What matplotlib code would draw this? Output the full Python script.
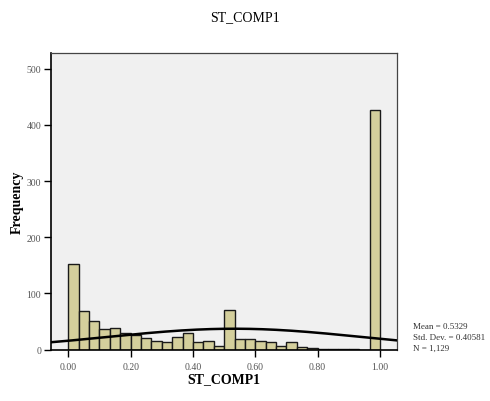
import matplotlib
matplotlib.use("Agg")
import matplotlib.pyplot as plt
import numpy as np

plt.rcParams["font.family"] = ["Liberation Serif", "DejaVu Serif"]

# histogram counts for ST_COMP1, 30 bins of width 1/30 from 0 to 1
bin_edges = np.linspace(0.0, 1.0, 31)
counts = [152, 69, 50, 36, 39, 29, 25, 21, 16, 13,
          22, 29, 13, 15, 7, 71, 18, 18, 16, 14,
          6, 13, 4, 2, 1, 1, 1, 1, 0, 427]

mean_val = 0.5329
std_val = 0.40581
n_val = 1129

xticks = [0.0, 0.2, 0.4, 0.6, 0.8, 1.0]
yticks = [0, 100, 200, 300, 400, 500]

fig = plt.figure(figsize=(4.9, 4.02), dpi=100)
ax = fig.add_axes([0.1041, 0.1281, 0.7061, 0.7376])
ax.set_facecolor("#F0F0F0")

widths = np.diff(bin_edges)
ax.bar(bin_edges[:-1], counts, width=widths, align="edge",
       color="#D4CF9C", edgecolor="#1a1a1a", linewidth=1.0, zorder=2)

# normal curve scaled to counts
xs = np.linspace(-0.06, 1.06, 300)
bw = widths[0]
ys = n_val * bw / (std_val * np.sqrt(2 * np.pi)) * np.exp(-0.5 * ((xs - mean_val) / std_val) ** 2)
ax.plot(xs, ys, color="black", linewidth=1.8, zorder=3)

ax.set_xlim(-0.0555, 1.0545)
ax.set_ylim(0, 528)
ax.set_xticks(xticks)
ax.set_xticklabels([f"{t:.2f}" for t in xticks])
ax.set_yticks(yticks)
ax.tick_params(axis="both", direction="out", length=5, width=1.0,
               labelsize=7, labelcolor="#555555", color="black")
ax.tick_params(axis="x", pad=4)
ax.tick_params(axis="y", pad=2)

for side in ["left", "bottom"]:
    ax.spines[side].set_color("black")
    ax.spines[side].set_linewidth(1.2)
for side in ["top", "right"]:
    ax.spines[side].set_color("#444444")
    ax.spines[side].set_linewidth(0.9)

ax.set_xlabel("ST_COMP1", fontsize=10, fontweight="bold", labelpad=1)
ax.set_ylabel("Frequency", fontsize=10, fontweight="bold", labelpad=2)

fig.text(0.5, 1 - 18 / 402, "ST_COMP1", ha="center", va="center", fontsize=10)

fig.text(413 / 490, 1 - 327 / 402, f"Mean = {mean_val}", fontsize=6.5, va="center", color="#333333")
fig.text(413 / 490, 1 - 338 / 402, f"Std. Dev. = {std_val}", fontsize=6.5, va="center", color="#333333")
fig.text(413 / 490, 1 - 349 / 402, f"N = {n_val:,}", fontsize=6.5, va="center", color="#333333")

fig.savefig("out.png", dpi=100)
